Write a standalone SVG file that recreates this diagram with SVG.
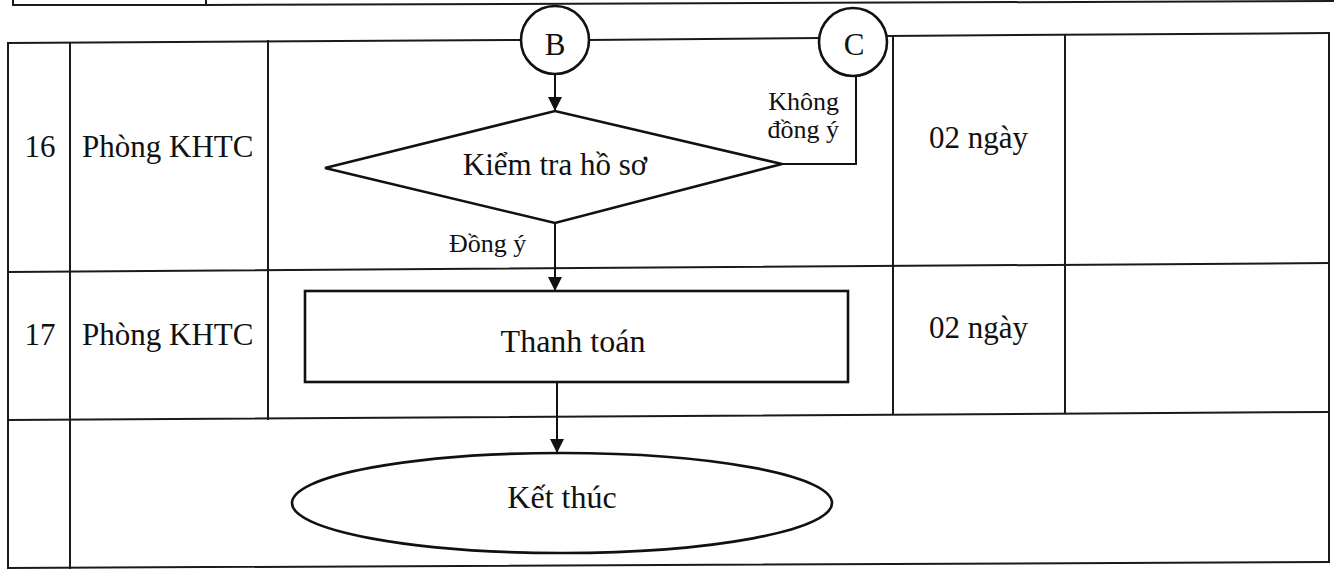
<svg xmlns="http://www.w3.org/2000/svg" width="1334" height="570" viewBox="0 0 1334 570">
<style>
.grid{stroke:#1a1a1a;stroke-width:2;fill:none;stroke-linecap:square}
.shape{stroke:#111;stroke-width:2.6;fill:#fff}
.conn{stroke:#111;stroke-width:2;fill:none}
text{font-family:"Liberation Serif","Times New Roman",serif;fill:#111}
.main{font-size:31px}
.lbl{font-size:26px}
.mid{text-anchor:middle}
</style>
<defs>
<marker id="arr" markerWidth="14" markerHeight="14" refX="14" refY="7" orient="auto" markerUnits="userSpaceOnUse">
<path d="M0,0 L14,7 L0,14 Z" fill="#111"/>
</marker>
</defs>
<rect width="1334" height="570" fill="#fff"/>
<g id="table">
<rect x="13" y="-10" width="193" height="15" class="grid"/>
<line x1="206" y1="5" x2="1334" y2="1" class="grid"/>
<line x1="8" y1="43" x2="521" y2="40" class="grid"/>
<line x1="588" y1="40" x2="819" y2="38" class="grid"/>
<line x1="887" y1="36" x2="1329" y2="33" class="grid"/>
<line x1="8" y1="272" x2="1329" y2="263" class="grid"/>
<line x1="8" y1="420" x2="1329" y2="412" class="grid"/>
<line x1="8" y1="568" x2="1329" y2="562" class="grid"/>
<line x1="8" y1="43" x2="8" y2="568" class="grid"/>
<line x1="70" y1="43" x2="70" y2="568" class="grid"/>
<line x1="268" y1="41" x2="268" y2="419" class="grid"/>
<line x1="893" y1="36" x2="893" y2="414" class="grid"/>
<line x1="1065" y1="35" x2="1065" y2="413" class="grid"/>
<line x1="1329" y1="33" x2="1329" y2="562" class="grid"/>
<text x="40" y="157" class="main mid">16</text>
<text x="82" y="157" class="main">Phòng KHTC</text>
<text x="40" y="345" class="main mid">17</text>
<text x="82" y="345" class="main">Phòng KHTC</text>
<text x="929" y="148" class="main">02 ngày</text>
<text x="929" y="338" class="main">02 ngày</text>
</g>
<g id="connectors">
<line x1="555" y1="74" x2="555" y2="111" class="conn" marker-end="url(#arr)"/>
<polyline points="856,76 856,164 782,164" class="conn"/>
<line x1="555" y1="223" x2="555" y2="291" class="conn" marker-end="url(#arr)"/>
<line x1="557" y1="382" x2="557" y2="453" class="conn" marker-end="url(#arr)"/>
<text x="839" y="110" class="lbl" text-anchor="end">Không</text>
<text x="839" y="138" class="lbl" text-anchor="end">đồng ý</text>
<text x="449" y="252" class="lbl">Đồng ý</text>
</g>
<g id="node-B">
<circle cx="555" cy="40" r="34" class="shape"/>
<text x="555" y="55" class="main mid">B</text>
</g>
<g id="node-C">
<circle cx="853" cy="42" r="34" class="shape"/>
<text x="854" y="55" class="main mid">C</text>
</g>
<g id="node-check">
<polygon points="325,168 555,111 782,164 555,223" class="shape"/>
<text x="555" y="175" class="main mid">Kiểm tra hồ sơ</text>
</g>
<g id="node-pay">
<rect x="305" y="291" width="543" height="91" class="shape"/>
<text x="573" y="352" class="main mid" style="font-size:32px">Thanh toán</text>
</g>
<g id="node-end">
<ellipse cx="562" cy="503" rx="270" ry="50" class="shape"/>
<text x="562" y="508" class="main mid" style="font-size:32px">Kết thúc</text>
</g>
</svg>
